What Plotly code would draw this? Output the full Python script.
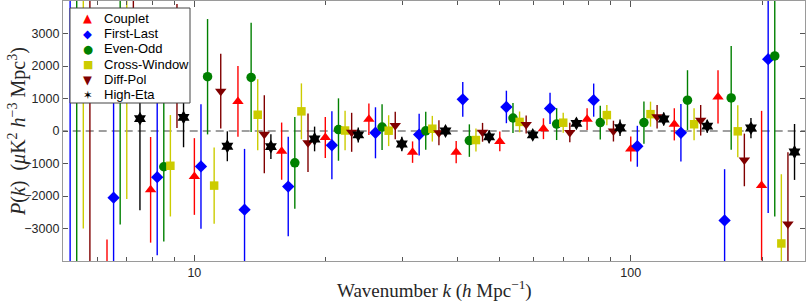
import plotly.graph_objects as go

# k-bin centres (h/Mpc)
k_centers = [5.47, 6.88, 8.66, 10.91, 13.73, 17.29, 21.77, 27.40, 34.50, 43.43,
             54.67, 68.83, 86.65, 109.1, 137.3, 172.9, 217.6]

series_names = ["Couplet", "First-Last", "Even-Odd", "Cross-Window", "Diff-Pol", "High-Eta"]

couplet_vals = [None, -5500, -1810, -1400, 910, -620, -200, 365, -650, -650, -320, 70, 365, -555, 205, 1050, -1680]
couplet_errs = [None, 2160, 1625, 1180, 1090, 880, 630, 485, 330, 340, 305, 320, 335, 385, 495, 820, 2300]

firstlast_vals = [-4500, -2050, -1420, -1090, -2420, -1710, -440, -55, -110, 975, 740, 695, 950, -470, -55, -2750, 2210]
firstlast_errs = [9000, 3800, 2400, 1915, 1870, 1530, 1045, 785, 640, 535, 500, 480, 510, 630, 885, 1575, 4735]

evenodd_vals = [2000, 1500, -1100, 1670, 1650, -980, 45, 120, 5, -295, 400, 212, 258, 258, 950, 1018, 2310]
evenodd_errs = [7000, 4380, 2300, 1775, 1680, 1410, 960, 705, 585, 500, 460, 490, 520, 650, 920, 1595, 4940]

crosswin_vals = [1500, 1500, -1070, -1680, 500, 605, 15, 10, 70, -278, 280, 255, 490, 518, 208, -10, -3460]
crosswin_errs = [4500, 3590, 1560, 1175, 1090, 860, 610, 475, 395, 355, 320, 305, 310, 385, 490, 800, 2130]

diffpol_vals = [2000, 3000, 2000, 1225, -100, -360, -40, 170, -55, -40, 200, -48, -3, 440, 330, -890, -2860]
diffpol_errs = [6500, 1600, 1910, 1150, 1200, 900, 600, 420, 385, 290, 280, 300, 320, 360, 470, 810, 2210]

higheta_vals = [2500, 380, 420, -470, -480, -245, -120, -400, 0, -180, -120, 235, 100, 370, 150, 90, -645]
higheta_errs = [1200, 2820, 920, 460, 380, 380, 230, 220, 150, 200, 150, 150, 255, 200, 200, 310, 860]

x_ticks = [10, 100]
x_tick_labels = ["10", "100"]
x_minor = [6, 7, 8, 9, 20, 30, 40, 50, 60, 70, 80, 90, 200]
y_ticks = [-3000, -2000, -1000, 0, 1000, 2000, 3000]

all_vals = [couplet_vals, firstlast_vals, evenodd_vals, crosswin_vals, diffpol_vals, higheta_vals]
all_errs = [couplet_errs, firstlast_errs, evenodd_errs, crosswin_errs, diffpol_errs, higheta_errs]
colors = ["#FF0000", "#0000FF", "#008000", "#CCCC00", "#800000", "#000000"]
symbols = ["triangle-up", "diamond", "circle", "square", "triangle-down", "hexagram"]
sizes = [10, 9.5, 9.5, 8.5, 10, 10.5]
legend_glyphs = ["▲", "◆", "●", "■", "▼", "✶"]
legend_glyph_sizes = [11.5, 11.5, 11.5, 11, 11.5, 11.5]
log_step = 0.0151

# plot-area geometry (px) used for converting legend layout to paper coordinates
PX_L, PX_R, PX_T, PX_B = 63, 805, 1, 261


def px_to_paper_x(px):
    return (px - PX_L) / (PX_R - PX_L)


def px_to_paper_y(py):
    return (PX_B - py) / (PX_B - PX_T)


fig = go.Figure()
# zero reference line
fig.add_trace(go.Scatter(x=[4, 300], y=[0, 0], mode="lines",
                         line=dict(color="#808080", width=1.3, dash="8px,5px"),
                         showlegend=False, hoverinfo="skip"))

for j, name in enumerate(series_names):
    fac = 10 ** ((j - 2.5) * log_step)
    xs = [k * fac for k in k_centers]
    fig.add_trace(go.Scatter(
        x=xs, y=all_vals[j], mode="markers", name=name, showlegend=False,
        marker=dict(symbol=symbols[j], color=colors[j], size=sizes[j], line=dict(width=0)),
        error_y=dict(type="data", array=all_errs[j], color=colors[j], thickness=1.4, width=0, visible=True),
    ))

axis_common = dict(showline=True, linecolor="#9a9a9a", linewidth=1.2, mirror="ticks",
                   ticks="inside", tickcolor="#555555", showgrid=False, zeroline=False,
                   automargin=False,
                   tickfont=dict(family="Liberation Sans, Arial", size=12.5, color="#262626"))

fig.update_xaxes(type="log", range=[0.699, 2.3994], tickvals=x_ticks, ticktext=x_tick_labels,
                 ticklen=6, minor=dict(ticks="inside", ticklen=3.5, tickvals=x_minor, tickcolor="#555555", showgrid=False),
                 **axis_common)
fig.update_yaxes(range=[-4000, 4000], tickvals=y_ticks, ticklen=5, **axis_common)

fig.add_annotation(text="Wavenumber <i>k</i> (<i>h</i> Mpc<sup>−1</sup>)",
                   xref="paper", yref="paper", x=0.5, y=-0.108, xanchor="center", yanchor="middle",
                   showarrow=False,
                   font=dict(family="Liberation Serif, DejaVu Serif, serif", size=19, color="#262626"))
fig.add_annotation(text="<i>P</i>(<i>k</i>)  (<i>μ</i>K<sup>2</sup> <i>h</i><sup>−3</sup> Mpc<sup>3</sup>)",
                   xref="paper", yref="paper", x=-0.062, y=0.5, xanchor="center", yanchor="middle",
                   textangle=-90, showarrow=False,
                   font=dict(family="Liberation Serif, DejaVu Serif, serif", size=20, color="#262626"))

# compact legend box (MATLAB-style)
fig.add_shape(type="rect", xref="paper", yref="paper", layer="above",
              x0=px_to_paper_x(70), x1=px_to_paper_x(190),
              y0=px_to_paper_y(103), y1=px_to_paper_y(8),
              fillcolor="white", line=dict(color="#444444", width=1))
row_y = 18.3
for j, name in enumerate(series_names):
    yy = px_to_paper_y(row_y + 15.3 * j)
    fig.add_annotation(text=legend_glyphs[j], xref="paper", yref="paper",
                       x=px_to_paper_x(87.5), y=yy, xanchor="center", yanchor="middle",
                       showarrow=False,
                       font=dict(family="DejaVu Sans", size=legend_glyph_sizes[j], color=colors[j]))
    fig.add_annotation(text=name, xref="paper", yref="paper",
                       x=px_to_paper_x(102), y=yy, xanchor="left", yanchor="middle",
                       showarrow=False,
                       font=dict(family="Liberation Sans, Arial", size=13, color="#000000"))

fig.update_layout(
    width=806, height=302,
    margin=dict(l=PX_L, r=806 - PX_R, t=PX_T, b=302 - PX_B),
    paper_bgcolor="white", plot_bgcolor="white",
    showlegend=False,
)

fig.write_html("out.html", config={"displayModeBar": False},
               post_script="document.body.style.margin='0';document.body.style.overflow='hidden';")
